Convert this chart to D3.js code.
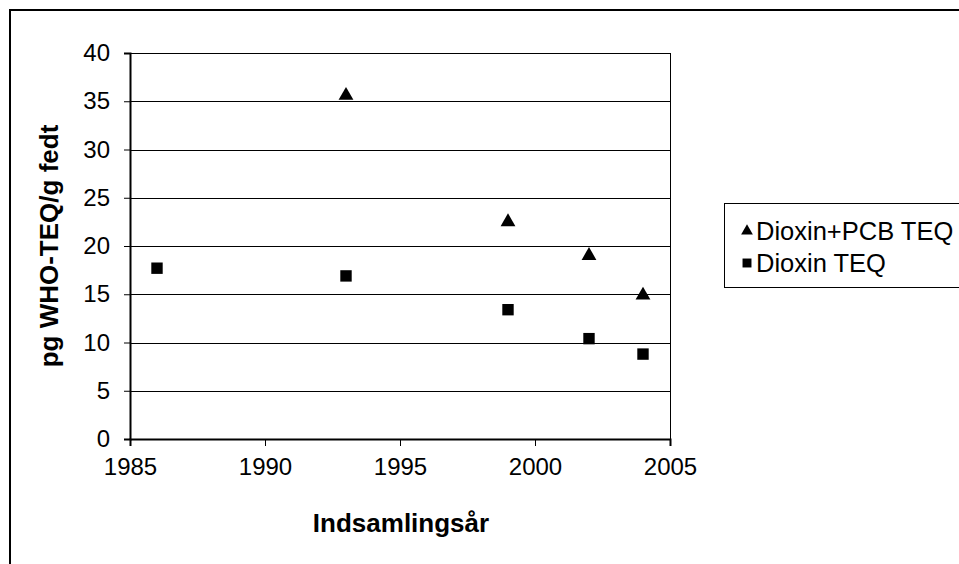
<!DOCTYPE html>
<html>
<head>
<meta charset="utf-8">
<script src="https://cdn.jsdelivr.net/npm/d3@7"></script>
<style>
  body { margin: 0; background: #fff; }
  svg { display: block; font-family: "Liberation Sans", Arial, sans-serif; }
</style>
</head>
<body>
<div id="chart"></div>
<script>
// collection years and measured values (pg WHO-TEQ/g fat)
const years = [1986, 1993, 1999, 2002, 2004];
const dioxinPcb = [null, 35.6, 22.5, 19.0, 14.9];
const dioxin = [17.7, 16.9, 13.4, 10.4, 8.8];
const seriesNames = ["Dioxin+PCB TEQ", "Dioxin TEQ"];
const yTicks = [0, 5, 10, 15, 20, 25, 30, 35, 40];
const xTicks = [1985, 1990, 1995, 2000, 2005];

const W = 959, H = 564;
const plot = { left: 130, right: 670, top: 53, bottom: 439 };

const svg = d3.select("#chart").append("svg")
  .attr("width", W)
  .attr("height", H);

// outer chart frame (runs off the right and bottom of the picture)
svg.append("rect")
  .attr("x", 10).attr("y", 10)
  .attr("width", W + 20).attr("height", H + 20)
  .attr("fill", "#fff")
  .attr("stroke", "#000")
  .attr("stroke-width", 2);

const x = d3.scaleLinear().domain([1985, 2005]).range([plot.left, plot.right]);
const y = d3.scaleLinear().domain([0, 40]).range([plot.bottom, plot.top]);

const g = svg.append("g");

// horizontal gridlines
g.selectAll(".grid")
  .data(yTicks.filter(d => d > 0))
  .join("line")
    .attr("x1", plot.left).attr("x2", plot.right)
    .attr("y1", d => Math.round(y(d)) + 0.5)
    .attr("y2", d => Math.round(y(d)) + 0.5)
    .attr("stroke", "#000")
    .attr("stroke-width", 1);

// right edge of plot area
g.append("line")
  .attr("x1", plot.right + 0.5).attr("x2", plot.right + 0.5)
  .attr("y1", plot.top).attr("y2", plot.bottom)
  .attr("stroke", "#000");

const yAxis = g.append("g")
  .attr("transform", `translate(${plot.left},0)`)
  .call(d3.axisLeft(y).tickValues(yTicks).tickSize(6).tickPadding(14));

const xAxis = g.append("g")
  .attr("transform", `translate(0,${plot.bottom})`)
  .call(d3.axisBottom(x).tickValues(xTicks).tickFormat(d3.format("d")).tickSize(7).tickPadding(12));

[yAxis, xAxis].forEach(ax => {
  ax.select(".domain").attr("stroke", "#000").attr("stroke-width", 2);
  ax.selectAll(".tick line").attr("stroke", "#000");
  ax.selectAll("text")
    .attr("fill", "#000")
    .style("font-size", "24px")
    .style("font-family", "Liberation Sans, Arial, sans-serif");
});

// axis titles
svg.append("text")
  .attr("x", 401).attr("y", 532)
  .attr("text-anchor", "middle")
  .style("font-size", "26px")
  .style("font-weight", "bold")
  .text("Indsamlingsår");

svg.append("text")
  .attr("transform", "translate(58,246) rotate(-90)")
  .attr("text-anchor", "middle")
  .style("font-size", "26px")
  .style("font-weight", "bold")
  .text("pg WHO-TEQ/g fedt");

const tri = d3.symbol().type(d3.symbolTriangle).size(95);
const sq = d3.symbol().type(d3.symbolSquare).size(130);

const triData = years.map((yr, i) => ({ yr, v: dioxinPcb[i] })).filter(d => d.v != null);
const sqData = years.map((yr, i) => ({ yr, v: dioxin[i] }));

g.selectAll(".tri")
  .data(triData)
  .join("path")
    .attr("d", tri)
    .attr("transform", d => `translate(${x(d.yr)},${y(d.v)})`)
    .attr("fill", "#000");

g.selectAll(".sq")
  .data(sqData)
  .join("path")
    .attr("d", sq)
    .attr("transform", d => `translate(${x(d.yr)},${y(d.v)})`)
    .attr("fill", "#000");

// legend
const legend = svg.append("g");
legend.append("rect")
  .attr("x", 724.5).attr("y", 203.5)
  .attr("width", 300).attr("height", 84)
  .attr("fill", "#fff")
  .attr("stroke", "#000");

const legendRows = legend.selectAll(".row")
  .data(seriesNames)
  .join("g")
    .attr("transform", (d, i) => `translate(747,${231 + i * 32})`);

legendRows.append("path")
  .attr("d", (d, i) => i === 0
    ? d3.symbol().type(d3.symbolTriangle).size(60)()
    : d3.symbol().type(d3.symbolSquare).size(80)())
  .attr("fill", "#000");

legendRows.append("text")
  .attr("x", 9).attr("y", 0)
  .attr("dy", "0.35em")
  .style("font-size", "25.5px")
  .text(d => d);
</script>
</body>
</html>
